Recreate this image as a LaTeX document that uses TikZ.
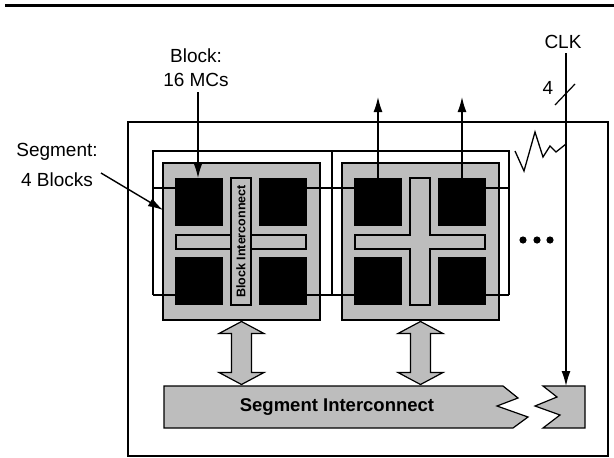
\documentclass[tikz,border=0pt]{standalone}
\usepackage{fontspec}
\setmainfont{Liberation Sans}
\usetikzlibrary{arrows.meta,calc}
\definecolor{dither}{gray}{0.74}
\begin{document}
\begin{tikzpicture}[x=1pt,y=-1pt,
  lbl/.style={font=\fontsize{19}{22}\selectfont, inner sep=0pt},
  blockbox/.style={draw, line width=2.4pt, fill=dither, anchor=north west, inner sep=0pt, outer sep=0pt, minimum width=157pt, minimum height=157pt},
  mcbox/.style={fill=black, anchor=north west, inner sep=0pt, outer sep=0pt, minimum width=48pt, minimum height=48pt},
  barbox/.style={draw, line width=1.1pt, fill=dither, anchor=north west, inner sep=0pt, outer sep=0pt},
  wire/.style={line width=1.3pt},
  arr/.style={line width=1.4pt, -{Latex[length=15pt,width=9pt]}},
  fatarrow/.style={draw, line width=1.2pt, fill=dither},
  dblarrow/.pic={\path[fatarrow] (0,-31.5) -- (22.5,-19.5) -- (10,-19.5) -- (10,19.5) -- (22.5,19.5) -- (0,31.5) -- (-22.5,19.5) -- (-10,19.5) -- (-10,-19.5) -- (-22.5,-19.5) -- cycle;}
]
\useasboundingbox (0,0) rectangle (614,458);

% top rule
\draw[line width=3pt] (5,5) -- (614,5);

% outer chip box
\node[draw, line width=2pt, anchor=north west, inner sep=0pt, minimum width=480pt, minimum height=334pt] (chip) at (127,121) {};

% segment frame coordinates
\coordinate (fTL) at (153,151);
\coordinate (fTR) at (509,151);
\coordinate (fBL) at (153,295);
\coordinate (fBR) at (509,295);
\coordinate (fML) at (153,188);
\coordinate (fMR) at (509,188);
\coordinate (fTM) at (332,151);
\coordinate (fBM) at (332,295);

% blocks
\node[blockbox] (b1) at (163,163) {};
\node[blockbox] (b2) at (342,163) {};

% frame wires
\draw[wire] (fBR) -- (fTR) -- (fTL) -- (fBL);
\draw[wire] (fTM) -- (fBM);

% memory cells
\node[mcbox] (m1a) at (175,178) {};
\node[mcbox] (m1b) at (259,178) {};
\node[mcbox] (m1c) at (175,257) {};
\node[mcbox] (m1d) at (259,257) {};
\node[mcbox] (m2a) at (354,178) {};
\node[mcbox] (m2b) at (438,178) {};
\node[mcbox] (m2c) at (354,257) {};
\node[mcbox] (m2d) at (438,257) {};

\draw[wire] (fML) -- (fML -| m1a.west);
\draw[wire] (fML -| m1b.east) -- (fML -| m2a.west);
\draw[wire] (fML -| m2b.east) -- (fMR);
\draw[wire] (fBL) -- (fBL -| m1c.west);
\draw[wire] (fBL -| m1d.east) -- (fBL -| m2c.west);
\draw[wire] (fBR -| m2d.east) -- (fBR);

% block interconnect, block 1
\node[barbox, minimum width=130pt, minimum height=14pt] (h1) at (176,235) {};
\node[barbox, minimum width=20pt, minimum height=127pt] (v1) at (231,178) {};
\node[rotate=90, inner sep=0pt, font=\bfseries\fontsize{12.5}{14}\selectfont] (bi) at (v1.center) {Block Interconnect};

% block interconnect, block 2
\draw[line width=1.1pt, fill=dither] (410,178) -- (430,178) -- (430,235) -- (485,235) -- (485,249) -- (430,249) -- (430,305) -- (410,305) -- (410,249) -- (355,249) -- (355,235) -- (410,235) -- cycle;

% zigzag break towards CLK
\coordinate (zz) at (515,151);
\draw[wire] (zz) -- (524,171) -- (535,132) -- (543,157) -- (550,146) -- (556,152) -- (566,144);

% ellipsis
\foreach \dx in {523,537,550} \fill (\dx,240) circle (3.6pt);

% segment interconnect bar
\draw[fatarrow] (164,386) -- (503,386) -- (518,398) -- (497,406) -- (528,417) -- (513,428) -- (164,428) -- cycle;
\draw[fatarrow] (543,386) -- (585,386) -- (585,428) -- (543,428) -- (560,415) -- (535,406) -- (557,397) -- cycle;
\node[inner sep=0pt, font=\bfseries\fontsize{18.5}{20}\selectfont] (si) at (337,407) {Segment Interconnect};
\coordinate (siTop) at (164,386);

% double arrows
\path ($(b1.south)!0.5!(b1.south |- siTop)$) pic {dblarrow};
\path ($(b2.south)!0.5!(b2.south |- siTop)$) pic {dblarrow};

% output arrows
\coordinate (tipY) at (0,97);
\draw[arr] (m2a.north) -- (m2a.north |- tipY);
\draw[arr] (m2b.north) -- (m2b.north |- tipY);

% labels
\node[lbl] (blk) at (196,56) {Block:};
\node[lbl] (mcs) at (196,80) {16 MCs};
\coordinate (bstart) at (198,92);
\draw[arr] (bstart) -- (bstart |- m1a.north);

\node[lbl] (seg) at (57,152) {Segment:};
\node[lbl] (blks) at (57,180) {4 Blocks};
\coordinate (sstart) at (101,173);
\coordinate (send) at (163,210);
\draw[arr] (sstart) -- (send);

% CLK
\node[lbl] (clk) at (563,42) {CLK};
\coordinate (clktop) at (566,53);
\coordinate (clkbot) at (566,386);
\draw[arr] (clktop) -- (clkbot);
\draw[line width=1.2pt] (555,105) -- (575,84);
\node[lbl] (four) at (548,88) {4};
\end{tikzpicture}
\end{document}
